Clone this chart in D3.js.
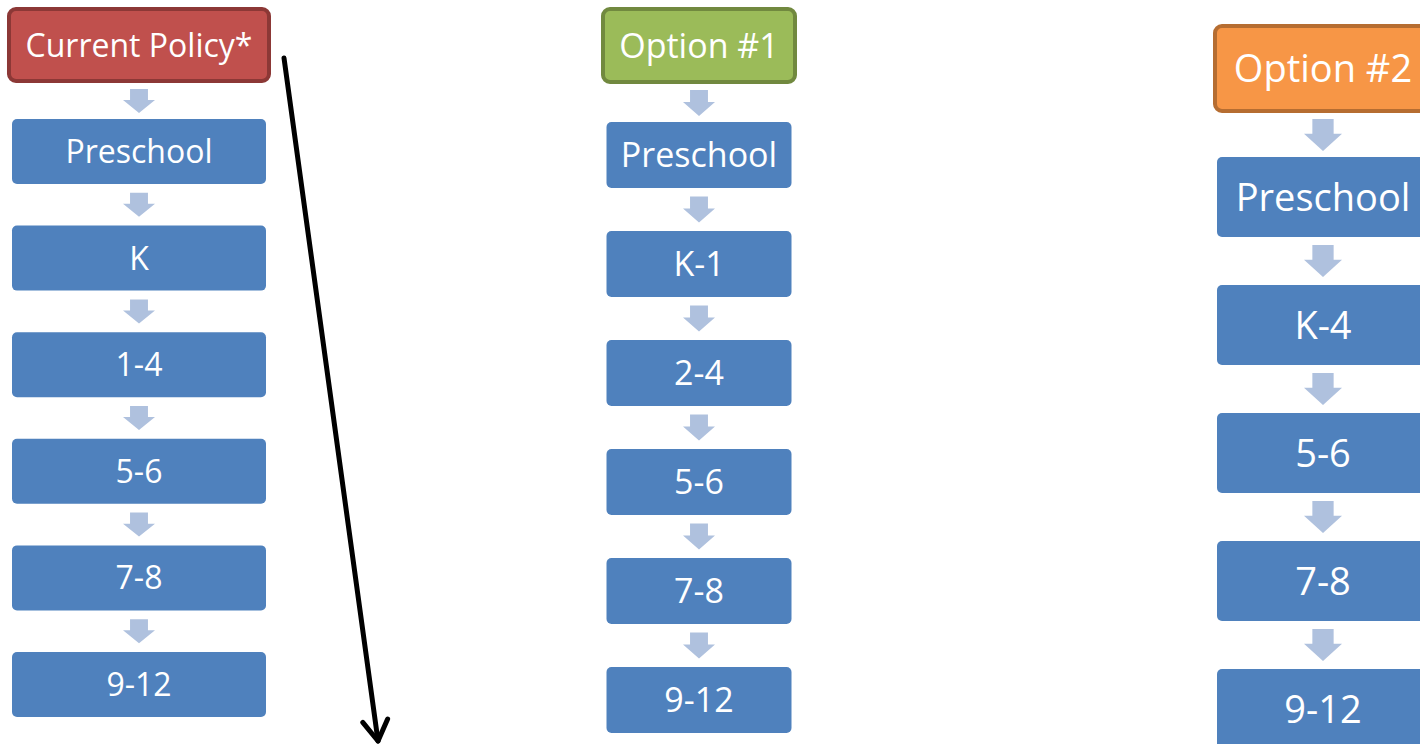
<!DOCTYPE html>
<html>
<head>
<meta charset="utf-8">
<script src="https://cdn.jsdelivr.net/npm/d3@7"></script>
<style>
  body { margin: 0; background: #fff; }
  svg { display: block; }
  text { font-family: "Open Sans", "DejaVu Sans", sans-serif; fill: #fff; }
</style>
</head>
<body>
<div id="chart"></div>
<script>
// column headers and the grade groupings under each
const headers = ["Current Policy*", "Option #1", "Option #2"];
const currentPolicy = ["Preschool", "K", "1-4", "5-6", "7-8", "9-12"];
const option1 = ["Preschool", "K-1", "2-4", "5-6", "7-8", "9-12"];
const option2 = ["Preschool", "K-4", "5-6", "7-8", "9-12"];
const steps = [currentPolicy, option1, option2];

const width = 1420,
    height = 744;

const boxFill = '#4f81bd',
    arrowFill = '#afc1de';

// layout for each column (positions / styles only)
const layout = [
    { cx: 139, boxW: 254, headW: 260, headY: 9, headH: 72, top: 119, bottom: 717, pad: 0.39,
      font: 32, arrowW: 32, arrowH: 24, fill: '#c0504d', stroke: '#8c3836' },
    { cx: 699, boxW: 185, headW: 192, headY: 9, headH: 73, top: 122, bottom: 733, pad: 0.394,
      font: 34, arrowW: 32, arrowH: 26, fill: '#9bbb59', stroke: '#71893f' },
    { cx: 1323, boxW: 212, headW: 216, headY: 26, headH: 85, top: 157, bottom: 749, pad: 0.375,
      font: 38, arrowW: 38, arrowH: 32, fill: '#f79646', stroke: '#b66d31' }
];

const svg = d3.select('#chart').append('svg')
    .attr('width', width)
    .attr('height', height);

function blockArrow(g, cx, y0, y1, w, h) {
    // down arrow centred in the gap between y0 and y1
    const top = (y0 + y1) / 2 - h / 2,
        shaftW = w * 0.56,
        shaftH = h * 0.46;
    const pts = [
        [cx - shaftW / 2, top], [cx + shaftW / 2, top],
        [cx + shaftW / 2, top + shaftH], [cx + w / 2, top + shaftH],
        [cx, top + h], [cx - w / 2, top + shaftH],
        [cx - shaftW / 2, top + shaftH]
    ];
    g.append('path')
        .attr('d', d3.line()(pts) + 'Z')
        .attr('fill', arrowFill);
}

headers.forEach((name, i) => {
    const L = layout[i];
    const labels = steps[i];
    const g = svg.append('g').attr('class', 'col');

    const y = d3.scaleBand()
        .domain(labels)
        .range([L.top, L.bottom])
        .paddingInner(L.pad)
        .paddingOuter(0);

    // header
    g.append('rect')
        .attr('x', L.cx - L.headW / 2)
        .attr('y', L.headY)
        .attr('width', L.headW)
        .attr('height', L.headH)
        .attr('rx', 7)
        .attr('fill', L.fill)
        .attr('stroke', L.stroke)
        .attr('stroke-width', 4);

    g.append('text')
        .attr('x', L.cx)
        .attr('y', L.headY + L.headH / 2)
        .attr('dy', '0.36em')
        .attr('text-anchor', 'middle')
        .style('font-size', L.font + 'px')
        .text(name);

    // arrows: header -> first box, then between boxes
    blockArrow(g, L.cx, L.headY + L.headH + 2, y(labels[0]), L.arrowW, L.arrowH);
    labels.slice(1).forEach((lab, j) => {
        blockArrow(g, L.cx, y(labels[j]) + y.bandwidth(), y(lab), L.arrowW, L.arrowH);
    });

    // boxes
    const box = g.selectAll('g.box')
        .data(labels)
        .enter()
        .append('g')
        .attr('class', 'box');

    box.append('rect')
        .attr('x', L.cx - L.boxW / 2)
        .attr('y', d => y(d))
        .attr('width', L.boxW)
        .attr('height', y.bandwidth())
        .attr('rx', 5)
        .attr('fill', boxFill);

    box.append('text')
        .attr('x', L.cx)
        .attr('y', d => y(d) + y.bandwidth() / 2)
        .attr('dy', '0.36em')
        .attr('text-anchor', 'middle')
        .style('font-size', L.font + 'px')
        .text(d => d);
});

// hand-drawn pointer next to current policy
const L0 = layout[0];
const start = [L0.cx + L0.headW / 2 + 15, L0.headY + 49],
    tip = [378, 741];
const ang = Math.atan2(tip[1] - start[1], tip[0] - start[0]);
const headLen = 24;
const pointer = svg.append('g')
    .attr('fill', 'none')
    .attr('stroke', '#000')
    .attr('stroke-width', 5)
    .attr('stroke-linecap', 'round')
    .attr('stroke-linejoin', 'round');

pointer.append('line')
    .attr('x1', start[0]).attr('y1', start[1])
    .attr('x2', tip[0]).attr('y2', tip[1]);

pointer.append('path')
    .attr('d', d3.line()([
        [tip[0] - headLen * Math.cos(ang - 0.55), tip[1] - headLen * Math.sin(ang - 0.55)],
        tip,
        [tip[0] - headLen * Math.cos(ang + 0.55), tip[1] - headLen * Math.sin(ang + 0.55)]
    ]));
</script>
</body>
</html>
